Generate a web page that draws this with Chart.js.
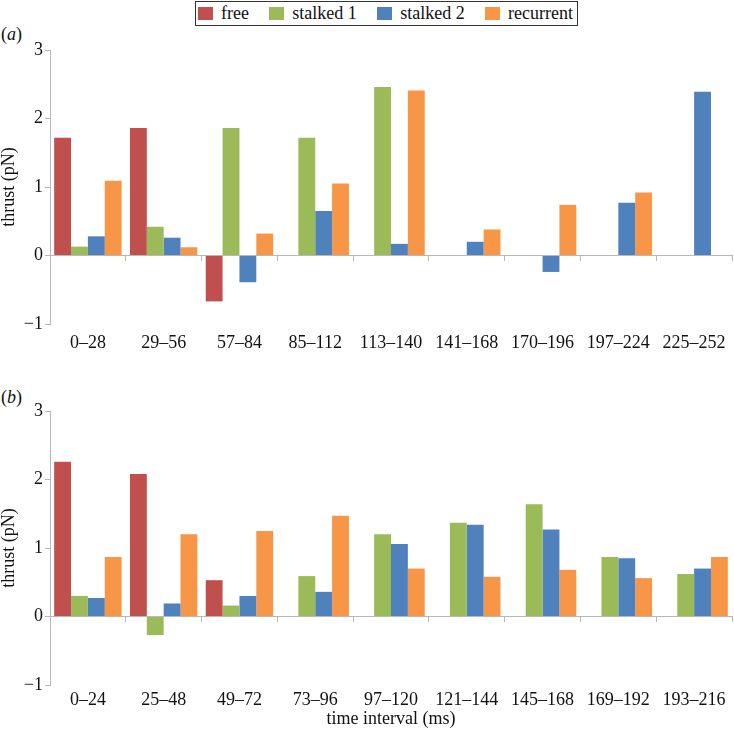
<!DOCTYPE html>
<html><head><meta charset="utf-8">
<script src="https://cdn.jsdelivr.net/npm/chart.js@4.4.1/dist/chart.umd.min.js"></script>
<style>
html,body{margin:0;padding:0;background:#fff;}
body{width:734px;height:736px;position:relative;overflow:hidden;font-family:"Liberation Serif","Tinos","Times New Roman","DejaVu Serif","Noto Serif",serif;color:#111;}
#wa{position:absolute;left:0;top:0;width:734px;height:360px;}
#wb{position:absolute;left:0;top:360px;width:734px;height:376px;}
.plab{position:absolute;left:1px;font-size:18px;line-height:18px;}
#legend{position:absolute;left:195px;top:1px;width:375px;height:23px;border:1px solid #333;display:flex;align-items:center;justify-content:space-between;padding:0 4px 0 2px;box-sizing:content-box;font-size:18px;}
#legend .it{display:flex;align-items:center;white-space:nowrap;}
#legend .sw{width:15px;height:13px;margin-right:8px;display:inline-block;}
</style>
</head><body>
<div id="legend"></div>
<div class="plab" style="top:25px">(<i>a</i>)</div>
<div class="plab" style="top:388px">(<i>b</i>)</div>
<div id="wa"><canvas id="ca" width="734" height="360"></canvas></div>
<div id="wb"><canvas id="cb" width="734" height="376"></canvas></div>
<script>
const seriesNames = ['free', 'stalked 1', 'stalked 2', 'recurrent'];
const seriesColors = ['#C0504D', '#9BBB59', '#4F81BD', '#F79646'];

const categoriesA = ['0–28', '29–56', '57–84', '85–112', '113–140', '141–168', '170–196', '197–224', '225–252'];
const freeA      = [1.72, 1.86, -0.67, null, null, null, null, null, null];
const stalked1A  = [0.13, 0.42, 1.86, 1.72, 2.46, null, null, null, null];
const stalked2A  = [0.28, 0.26, -0.39, 0.65, 0.17, 0.20, -0.24, 0.77, 2.39];
const recurrentA = [1.09, 0.12, 0.32, 1.05, 2.41, 0.38, 0.74, 0.92, null];

const categoriesB = ['0–24', '25–48', '49–72', '73–96', '97–120', '121–144', '145–168', '169–192', '193–216'];
const freeB      = [2.26, 2.08, 0.53, null, null, null, null, null, null];
const stalked1B  = [0.30, -0.27, 0.16, 0.59, 1.20, 1.37, 1.64, 0.87, 0.62];
const stalked2B  = [0.27, 0.19, 0.30, 0.36, 1.06, 1.34, 1.27, 0.85, 0.70];
const recurrentB = [0.87, 1.20, 1.25, 1.47, 0.70, 0.58, 0.68, 0.56, 0.87];

const yMin = -1, yMax = 3, yStep = 1;
const yTitle = 'thrust (pN)';
const xTitle = 'time interval (ms)';

// HTML legend built from series arrays
const lg = document.getElementById('legend');
seriesNames.forEach((n, i) => {
  const it = document.createElement('span'); it.className = 'it';
  const sw = document.createElement('span'); sw.className = 'sw'; sw.style.background = seriesColors[i];
  it.appendChild(sw); it.appendChild(document.createTextNode(n));
  lg.appendChild(it);
});

const font = {family: '"Liberation Serif", Tinos, "Times New Roman", "DejaVu Serif", "Noto Serif", serif', size: 18};
const axisGray = '#b8b8b8';

function makeChart(id, labels, series, o) {
  return new Chart(document.getElementById(id), {
    type: 'bar',
    data: {
      labels: labels,
      datasets: series.map((d, i) => ({
        label: seriesNames[i], data: d, backgroundColor: seriesColors[i],
        borderWidth: 0, categoryPercentage: 0.89, barPercentage: 1.0, xAxisID: 'x', yAxisID: 'y'
      }))
    },
    options: {
      responsive: false, animation: false, maintainAspectRatio: false,
      layout: {padding: {top: o.top, right: 2, left: 0, bottom: 0}},
      plugins: {legend: {display: false}, tooltip: {enabled: false}},
      scales: {
        x: {
          type: 'category', position: {y: 0}, offset: true,
          grid: {offset: true, drawOnChartArea: false, drawTicks: true, tickLength: 5, color: axisGray},
          border: {display: true, color: axisGray, width: 1},
          ticks: {display: false}
        },
        xl: {
          type: 'category', position: 'bottom', offset: true,
          grid: {display: false, drawTicks: false},
          border: {display: false},
          ticks: {font: font, color: '#111', padding: o.lpad, maxRotation: 0, autoSkip: false},
          title: {display: o.showTitle, text: xTitle, font: font, color: '#111', padding: {top: 6, bottom: 6}},
          afterFit(s) { s.height = o.bh; }
        },
        y: {
          min: yMin, max: yMax,
          ticks: {stepSize: yStep, font: font, color: '#111', padding: 2,
                  callback: v => String(v).replace('-', '\u2212')},
          grid: {drawOnChartArea: false, drawTicks: true, tickLength: 5, color: axisGray},
          border: {display: true, color: axisGray, width: 1},
          title: {display: true, text: yTitle, font: Object.assign({}, font, {lineHeight: 1}), color: '#111', padding: 0},
          afterFit(s) { s.width = 50; }
        }
      }
    }
  });
}

makeChart('ca', categoriesA, [freeA, stalked1A, stalked2A, recurrentA], {top: 50, bh: 36, lpad: 8, showTitle: false});
makeChart('cb', categoriesB, [freeB, stalked1B, stalked2B, recurrentB], {top: 51, bh: 51, lpad: 4, showTitle: true});
</script>
</body></html>
